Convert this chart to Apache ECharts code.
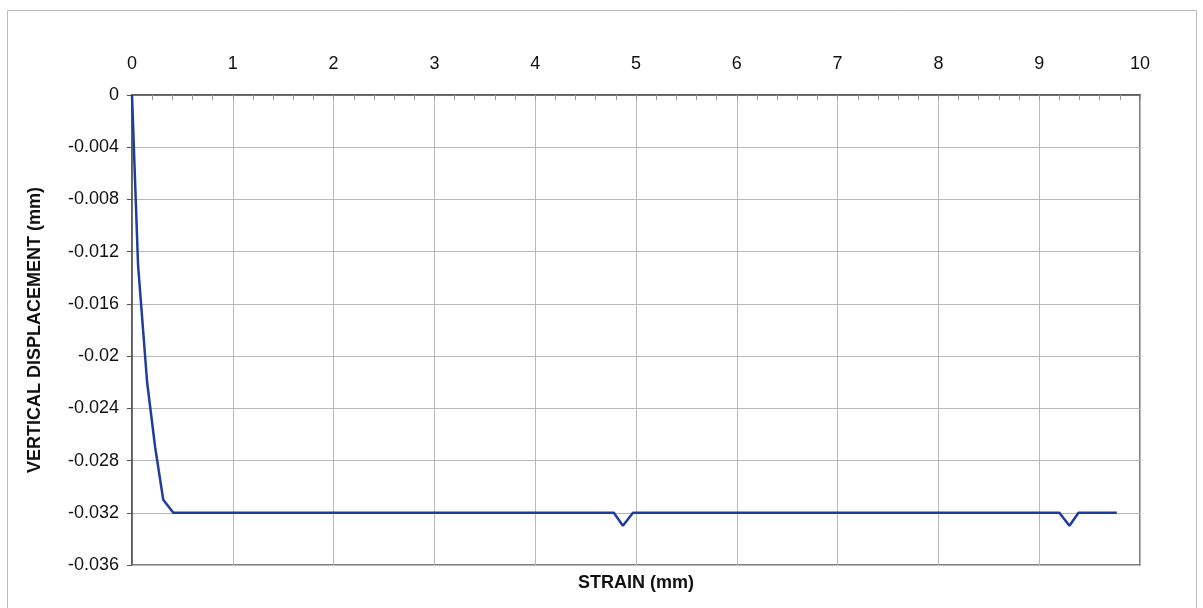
<!DOCTYPE html>
<html><head><meta charset="utf-8">
<script src="https://cdn.jsdelivr.net/npm/echarts@6/dist/echarts.min.js"></script>
<style>html,body{margin:0;padding:0;background:#fff}#c{width:1203px;height:608px}</style>
</head><body><div id="c"></div>
<script>
const strain = [0, 0.06, 0.15, 0.23, 0.31, 0.41, 4.78, 4.87, 4.97, 9.20, 9.30, 9.39, 9.77];
const displacement = [0, -0.013, -0.022, -0.027, -0.031, -0.032, -0.032, -0.033, -0.032, -0.032, -0.033, -0.032, -0.032];
const xTitle = 'STRAIN (mm)';
const yTitle = 'VERTICAL DISPLACEMENT (mm)';

const chart = echarts.init(document.getElementById('c'));
const font = 'Liberation Sans, Arial, sans-serif';
chart.setOption({
  animation: false,
  backgroundColor: '#fff',
  grid: {left: 132, right: 63, top: 95, bottom: 43, show: true, borderColor: '#555', borderWidth: 1.5},
  graphic: [{type: 'rect', shape: {x: 7.5, y: 10.5, width: 1189, height: 620}, style: {fill: 'none', stroke: '#bbb', lineWidth: 1}}],
  xAxis: {
    type: 'value', position: 'top', min: 0, max: 10, interval: 1,
    name: xTitle, nameLocation: 'middle', nameGap: -488,
    nameTextStyle: {fontFamily: font, fontSize: 18, fontWeight: 'bold', color: '#111', verticalAlign: 'middle'},
    axisLine: {show: true, onZero: false, lineStyle: {color: '#555', width: 1.5}},
    axisTick: {show: true, inside: true, length: 5, lineStyle: {color: '#999'}},
    minorTick: {show: true, splitNumber: 5, length: 5, lineStyle: {color: '#999'}},
    axisLabel: {fontFamily: font, fontSize: 18, color: '#111', margin: 22},
    splitLine: {show: true, lineStyle: {color: '#b8b8b8', width: 1}}
  },
  yAxis: {
    type: 'value', min: -0.036, max: 0, interval: 0.004,
    name: yTitle, nameLocation: 'middle', nameGap: 97, nameRotate: 90,
    nameTextStyle: {fontFamily: font, fontSize: 18, fontWeight: 'bold', color: '#111', verticalAlign: 'middle'},
    axisLine: {show: true, onZero: false, lineStyle: {color: '#555', width: 1.5}},
    axisTick: {show: true, inside: false, length: 5, lineStyle: {color: '#555'}},
    axisLabel: {fontFamily: font, fontSize: 18, color: '#111', margin: 13,
      formatter: v => (Math.abs(v) < 1e-9 ? '0' : String(+v.toFixed(3)))},
    splitLine: {show: true, lineStyle: {color: '#b8b8b8', width: 1}}
  },
  series: [{
    type: 'line', data: strain.map((x, i) => [x, displacement[i]]),
    showSymbol: false, lineStyle: {color: '#1f3d9c', width: 2.5}
  }]
});
</script></body></html>
